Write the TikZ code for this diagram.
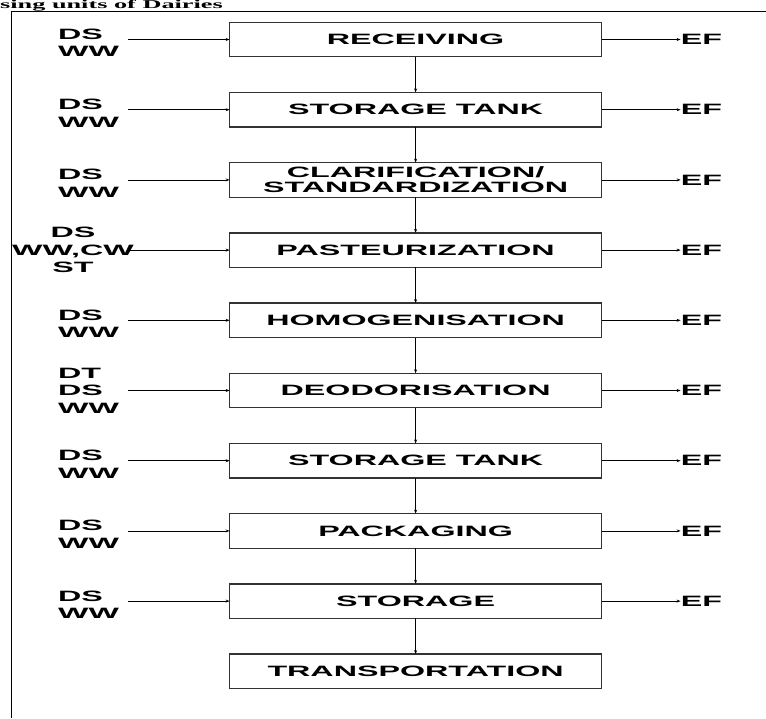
\documentclass[tikz,border=0pt]{standalone}
\usepackage{fontspec}
\setmainfont{Liberation Sans}[FakeStretch=2.15]
\newfontfamily\titlefont{Liberation Serif}[FakeStretch=2.19]
\usetikzlibrary{arrows.meta,positioning}

\begin{document}
\begin{tikzpicture}[x=1pt,y=-1pt,
  every node/.style={font=\bfseries\fontsize{15}{15}\selectfont},
  stage/.style={draw=black!80,line width=1.3pt,minimum width=372pt,minimum height=34.5pt,inner sep=1pt,outer sep=0pt,align=center},
  src/.style={anchor=west,align=left,inner sep=0pt,font=\bfseries\fontsize{15}{17.5}\selectfont},
  ef/.style={inner sep=0pt},
  arr/.style={-{Stealth[length=4pt,width=3pt]},line width=0.8pt},
  frame/.style={line width=1.3pt},
  node distance=35.7pt
]
\useasboundingbox (0,0) rectangle (766,718);
\node[anchor=base west,inner sep=0pt,font=\titlefont\bfseries\fontsize{12}{12}\selectfont] (title) at (0,8.6) {sing units of Dairies};
\draw[frame] (11.5,718) -- (11.5,11.5) -- (766,11.5);
% process chain
\node[stage] (rcv) at (415.6,39.5) {RECEIVING};
\node[stage,below=of rcv] (tank1) {STORAGE TANK};
\node[stage,below=of tank1] (clar) {CLARIFICATION/\\STANDARDIZATION};
\node[stage,below=of clar] (past) {PASTEURIZATION};
\node[stage,below=of past] (homo) {HOMOGENISATION};
\node[stage,below=of homo] (deod) {DEODORISATION};
\node[stage,below=of deod] (tank2) {STORAGE TANK};
\node[stage,below=of tank2] (pack) {PACKAGING};
\node[stage,below=of pack] (store) {STORAGE};
\node[stage,below=of store] (trans) {TRANSPORTATION};
\draw[arr] (rcv) -- (tank1);
\draw[arr] (tank1) -- (clar);
\draw[arr] (clar) -- (past);
\draw[arr] (past) -- (homo);
\draw[arr] (homo) -- (deod);
\draw[arr] (deod) -- (tank2);
\draw[arr] (tank2) -- (pack);
\draw[arr] (pack) -- (store);
\draw[arr] (store) -- (trans);
% inputs
\coordinate[left=101.8pt of rcv.west] (rcv-in);
\coordinate[left=101.8pt of tank1.west] (tank1-in);
\coordinate[left=101.8pt of clar.west] (clar-in);
\coordinate[left=101.8pt of past.west] (past-in);
\coordinate[left=101.8pt of homo.west] (homo-in);
\coordinate[left=101.8pt of deod.west] (deod-in);
\coordinate[left=101.8pt of tank2.west] (tank2-in);
\coordinate[left=101.8pt of pack.west] (pack-in);
\coordinate[left=101.8pt of store.west] (store-in);
\node[src,yshift=-3.5pt] (rcv-src) at (rcv-in -| 58,0) {DS\\WW};
\node[src,yshift=-3.5pt] (tank1-src) at (tank1-in -| 58,0) {DS\\WW};
\node[src,yshift=-3.5pt] (clar-src) at (clar-in -| 58,0) {DS\\WW};
\node[src,anchor=center,align=center] (past-src) at (past-in -| 73,0) {DS\\WW,CW\\ST};
\node[src,yshift=-3.5pt] (homo-src) at (homo-in -| 58,0) {DS\\WW};
\node[src] (deod-src) at (deod-in -| 58,0) {DT\\DS\\WW};
\node[src,yshift=-3.5pt] (tank2-src) at (tank2-in -| 58,0) {DS\\WW};
\node[src,yshift=-3.5pt] (pack-src) at (pack-in -| 58,0) {DS\\WW};
\node[src,yshift=-3.5pt] (store-src) at (store-in -| 58,0) {DS\\WW};
\draw[arr] (rcv-in) -- (rcv);
\draw[arr] (tank1-in) -- (tank1);
\draw[arr] (clar-in) -- (clar);
\draw[arr] (past-in) -- (past);
\draw[arr] (homo-in) -- (homo);
\draw[arr] (deod-in) -- (deod);
\draw[arr] (tank2-in) -- (tank2);
\draw[arr] (pack-in) -- (pack);
\draw[arr] (store-in) -- (store);
% effluents
\node[ef,right=79pt of rcv.east] (rcv-ef) {EF};
\node[ef,right=79pt of tank1.east] (tank1-ef) {EF};
\node[ef,right=79pt of clar.east] (clar-ef) {EF};
\node[ef,right=79pt of past.east] (past-ef) {EF};
\node[ef,right=79pt of homo.east] (homo-ef) {EF};
\node[ef,right=79pt of deod.east] (deod-ef) {EF};
\node[ef,right=79pt of tank2.east] (tank2-ef) {EF};
\node[ef,right=79pt of pack.east] (pack-ef) {EF};
\node[ef,right=79pt of store.east] (store-ef) {EF};
\draw[arr] (rcv) -- (rcv-ef);
\draw[arr] (tank1) -- (tank1-ef);
\draw[arr] (clar) -- (clar-ef);
\draw[arr] (past) -- (past-ef);
\draw[arr] (homo) -- (homo-ef);
\draw[arr] (deod) -- (deod-ef);
\draw[arr] (tank2) -- (tank2-ef);
\draw[arr] (pack) -- (pack-ef);
\draw[arr] (store) -- (store-ef);
\end{tikzpicture}
\end{document}
